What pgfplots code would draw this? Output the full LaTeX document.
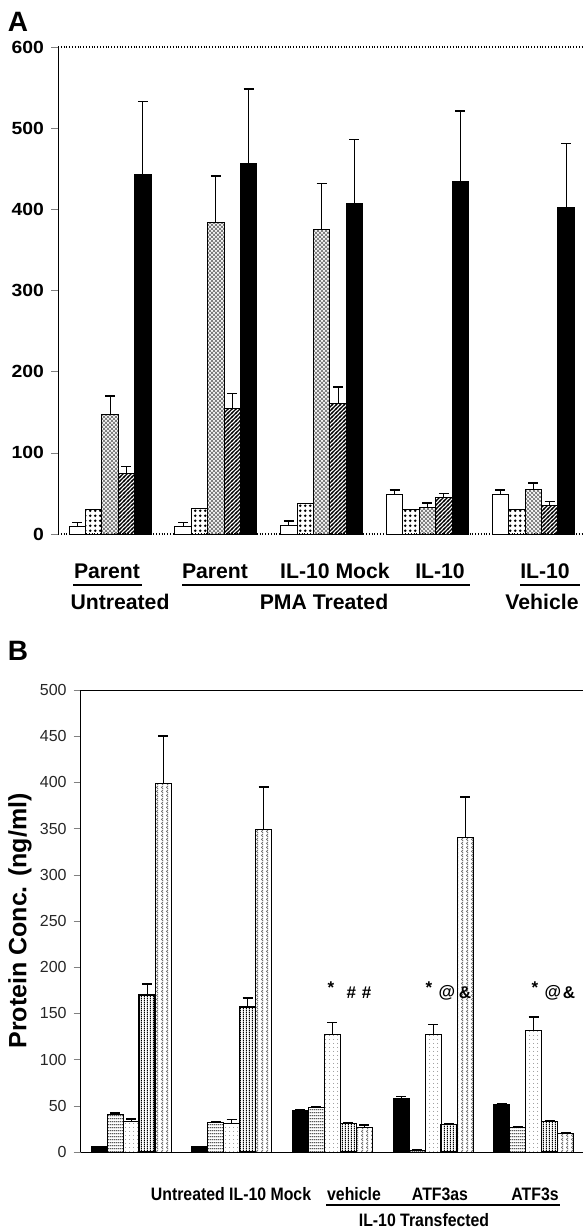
\documentclass[border=0pt]{standalone}
\usepackage{fontspec}
\setmainfont{Liberation Sans}
\newfontfamily\narrow[FakeStretch=0.88]{Liberation Sans}
\newfontfamily\wide[FakeStretch=1.1]{Liberation Sans}
\usepackage{pgfplots}
\pgfplotsset{compat=1.18}
\usetikzlibrary{patterns}

% fill patterns
\pgfdeclarepatternformonly{bigdots}{\pgfqpoint{0pt}{0pt}}{\pgfqpoint{2.6pt}{2.6pt}}{\pgfqpoint{2.6pt}{2.6pt}}%
  {\pgfpathcircle{\pgfqpoint{1.3pt}{1.3pt}}{0.78pt}\pgfusepath{fill}}
\pgfdeclarepatternformonly{diag}{\pgfqpoint{-0.5pt}{-0.5pt}}{\pgfqpoint{2.5pt}{2.5pt}}{\pgfqpoint{2pt}{2pt}}%
  {\pgfsetlinewidth{0.6pt}\pgfpathmoveto{\pgfqpoint{-0.5pt}{-0.5pt}}\pgfpathlineto{\pgfqpoint{2.5pt}{2.5pt}}\pgfusepath{stroke}}
\pgfdeclarepatternformonly{xhatch}{\pgfqpoint{-0.5pt}{-0.5pt}}{\pgfqpoint{2.5pt}{2.5pt}}{\pgfqpoint{2pt}{2pt}}%
  {\pgfsetlinewidth{0.35pt}\pgfpathmoveto{\pgfqpoint{0pt}{0pt}}\pgfpathlineto{\pgfqpoint{2pt}{2pt}}%
   \pgfpathmoveto{\pgfqpoint{0pt}{2pt}}\pgfpathlineto{\pgfqpoint{2pt}{0pt}}\pgfusepath{stroke}}
\pgfdeclarepatternformonly{hl}{\pgfqpoint{0pt}{0pt}}{\pgfqpoint{1pt}{1.6pt}}{\pgfqpoint{1pt}{1.6pt}}%
  {\pgfsetlinewidth{0.55pt}\pgfpathmoveto{\pgfqpoint{0pt}{0.8pt}}\pgfpathlineto{\pgfqpoint{1pt}{0.8pt}}\pgfusepath{stroke}}
\pgfdeclarepatternformonly{vl}{\pgfqpoint{0pt}{0pt}}{\pgfqpoint{1.6pt}{1pt}}{\pgfqpoint{1.6pt}{1pt}}%
  {\pgfsetlinewidth{0.6pt}\pgfpathmoveto{\pgfqpoint{0.8pt}{0pt}}\pgfpathlineto{\pgfqpoint{0.8pt}{1pt}}\pgfusepath{stroke}}
\pgfdeclarepatternformonly{sdots}{\pgfqpoint{0pt}{0pt}}{\pgfqpoint{2pt}{2pt}}{\pgfqpoint{2pt}{2pt}}%
  {\pgfpathcircle{\pgfqpoint{1pt}{1pt}}{0.3pt}\pgfusepath{fill}}
\pgfdeclarepatternformonly{zig}{\pgfqpoint{0pt}{0pt}}{\pgfqpoint{2.6pt}{2pt}}{\pgfqpoint{2.6pt}{2pt}}%
  {\pgfsetlinewidth{0.4pt}\pgfpathmoveto{\pgfqpoint{1.8pt}{0pt}}\pgfpathlineto{\pgfqpoint{0.8pt}{1pt}}%
   \pgfpathlineto{\pgfqpoint{1.8pt}{2pt}}\pgfusepath{stroke}}

\pgfplotsset{
  errs/.style={/pgfplots/error bars/y dir=plus, /pgfplots/error bars/y explicit,
    /pgfplots/error bars/error bar style={line width=0.5pt, black, solid},
    /pgfplots/error bars/error mark options={rotate=90, mark size=2.5pt, line width=0.8pt, black, solid}},
}

% panel A: x, value, error
\pgfplotstableread{
x y e
1 9 5
2 9 5
3 10 6
4 49 5
5 49 5
}\aone
\pgfplotstableread{
x y
1 30
2 31
3 38
4 30
5 30
}\atwo
\pgfplotstableread{
x y e
1 147 23
2 384 57
3 375 57
4 33 5
5 55 8
}\athree
\pgfplotstableread{
x y e
1 75 8
2 155 18
3 161 20
4 45 5
5 35 5
}\afour
\pgfplotstableread{
x y e
1 443 90
2 457 91
3 407 79
4 434 87
5 402 79
}\afive

% panel B
\pgfplotstableread{
x y e
1 6 0
2 6 0
3 45 1
4 58 2
5 51 1
}\bone
\pgfplotstableread{
x y e
1 41 1
2 32 1
3 48 1
4 2 0
5 27 0
}\btwo
\pgfplotstableread{
x y e
1 33 3
2 31 4
3 127 13
4 127 11
5 132 14
}\bthree
\pgfplotstableread{
x y e
1 170 12
2 157 10
3 31 1
4 30 1
5 33 1
}\bfour
\pgfplotstableread{
x y e
1 399 51
2 349 46
3 26 3
4 340 44
5 20 1
}\bfive

\begin{document}
\begin{tikzpicture}
\useasboundingbox (0,0) rectangle (291.5pt,-614.5pt);

\begin{axis}[
  at={(29pt,-267pt)}, anchor=south west,
  scale only axis, width=262.5pt, height=243.5pt,
  xmin=0.508, xmax=5.47, ymin=0, ymax=600,
  axis y line*=left, axis x line=none,
  ytick={0,100,...,600},
  tick align=outside, major tick length=3.5pt,
  y tick label style={font=\wide\bfseries\fontsize{8.8}{10}\selectfont},
  /pgf/number format/assume math mode=true,
  extra y ticks={0,600}, extra y tick labels={},
  extra y tick style={grid=major, major grid style={black, densely dotted, line width=0.6pt}, major tick length=0pt},
  ybar=0pt, bar width=8.2pt,
  clip=false,
]
\addplot[fill=white, draw=black, line width=0.5pt, errs] table[x=x, y=y, y error=e] {\aone};
\addplot[pattern=bigdots, pattern color=black, draw=black, line width=0.5pt] table[x=x, y=y] {\atwo};
\addplot[pattern=xhatch, pattern color=black!55, draw=black, line width=0.5pt, errs] table[x=x, y=y, y error=e] {\athree};
\addplot[pattern=diag, pattern color=black, draw=black, line width=0.5pt, errs] table[x=x, y=y, y error=e] {\afour};
\addplot[fill=black, draw=black, line width=0.5pt, errs] table[x=x, y=y, y error=e] {\afive};
\end{axis}

\begin{axis}[
  at={(40.35pt,-576pt)}, anchor=south west,
  scale only axis, width=251.15pt, height=231pt,
  xmin=0.5, xmax=5.49, ymin=0, ymax=500,
  axis y line*=left, axis x line*=bottom, xtick=\empty,
  ytick={0,50,...,500},
  tick align=outside, major tick length=3.5pt,
  y tick label style={font=\fontsize{8}{10}\selectfont, text=black!85},
  /pgf/number format/assume math mode=true,
  extra y ticks={500}, extra y tick labels={},
  extra y tick style={grid=major, major grid style={black, solid, line width=0.5pt}, major tick length=0pt},
  ybar=0pt, bar width=8pt,
  clip=false,
]
\addplot[fill=black, draw=black, line width=0.5pt, errs] table[x=x, y=y, y error=e] {\bone};
\addplot[pattern=hl, pattern color=black, draw=black, line width=0.5pt, errs] table[x=x, y=y, y error=e] {\btwo};
\addplot[pattern=sdots, pattern color=black!50, draw=black, line width=0.5pt, errs] table[x=x, y=y, y error=e] {\bthree};
\addplot[pattern=vl, pattern color=black, draw=black, line width=0.7pt, errs] table[x=x, y=y, y error=e] {\bfour};
\addplot[pattern=zig, pattern color=black!60, draw=black, line width=0.5pt, errs] table[x=x, y=y, y error=e] {\bfive};
\end{axis}

\begin{scope}[x=0.5pt, y=-0.5pt]
% panel letters
\node[font=\bfseries\fontsize{14}{16}\selectfont] at (18,22) {A};
\node[font=\bfseries\fontsize{14}{16}\selectfont] at (18,651) {B};

% panel A group labels
\begin{scope}[every node/.style={font=\bfseries\fontsize{10.6}{12}\selectfont, inner sep=0pt}]
\node at (107,571) {Parent};
\node at (215,571) {Parent};
\node at (335,571) {IL-10 Mock};
\node at (440,571) {IL-10};
\node at (545,571) {IL-10};
\node at (120,602) {Untreated};
\node at (324,602) {PMA Treated};
\node at (542,602) {Vehicle};
\end{scope}
\draw[line width=1.4pt] (73,585) -- (142,585);
\draw[line width=1.4pt] (182,585) -- (470,585);
\draw[line width=1.4pt] (520,585) -- (580,585);

% panel B significance marks
\begin{scope}[every node/.style={font=\bfseries\fontsize{8.5}{10}\selectfont, inner sep=0pt}]
\node at (331,988) {*};
\node at (359,993) {\#\hspace{3pt}\#};
\node at (429,988) {*};
\node at (447,993) {@};
\node at (465,993) {\&};
\node at (535,988) {*};
\node at (553,993) {@};
\node at (569,993) {\&};
\end{scope}

% panel B labels
\node[font=\bfseries\fontsize{12.5}{14}\selectfont, rotate=90] at (20,921) {Protein Conc. (ng/ml)};
\begin{scope}[every node/.style={font=\narrow\bfseries\fontsize{9}{10}\selectfont, inner sep=0pt}]
\node at (231,1194) {Untreated IL-10 Mock};
\node at (354,1194) {vehicle};
\node at (440,1194) {ATF3as};
\node at (535,1194) {ATF3s};
\node at (424,1220) {IL-10 Transfected};
\end{scope}
\draw[line width=1pt] (326,1205) -- (560,1205);
\end{scope}
\end{tikzpicture}
\end{document}
